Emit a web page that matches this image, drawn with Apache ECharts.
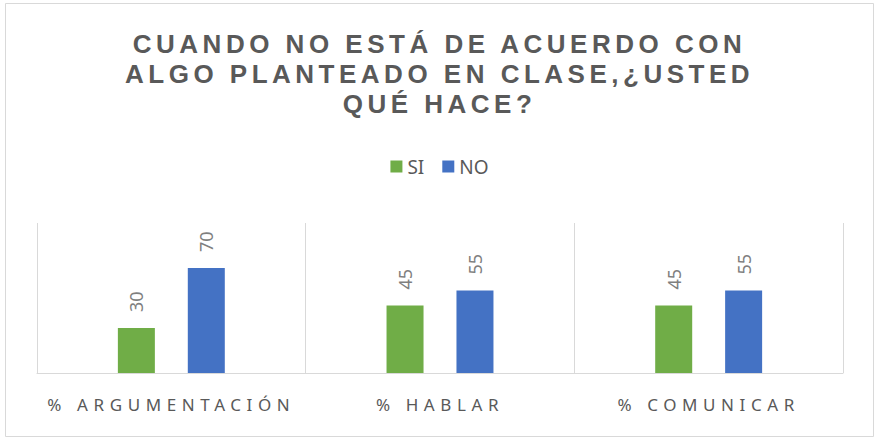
<!DOCTYPE html>
<html>
<head>
<meta charset="utf-8">
<script src="https://cdn.jsdelivr.net/npm/echarts@6/dist/echarts.min.js"></script>
<style>
  html, body { margin: 0; padding: 0; background: #fff; }
  #chart { width: 879px; height: 443px; }
  /* espaciado de letras: título y etiquetas del eje */
  #chart text[style*="26px"] { letter-spacing: 4.5px; }
  #chart text[style*="17px"] { letter-spacing: 5.6px; }
</style>
</head>
<body>
<div id="chart"></div>
<script>
// datos
const titleText = 'CUANDO NO ESTÁ DE ACUERDO CON\nALGO PLANTEADO EN CLASE,¿USTED\nQUÉ HACE?'
const categories = ['% ARGUMENTACIÓN', '% HABLAR', '% COMUNICAR']
const seriesNames = ['SI', 'NO']
const siValues = [30, 45, 45]
const noValues = [70, 55, 55]

const chart = echarts.init(document.getElementById('chart'), null, { renderer: 'svg' })

const valueLabel = {
  show: true,
  position: 'top',
  rotate: 90,
  align: 'left',
  verticalAlign: 'middle',
  distance: 16,
  color: '#7f7f7f',
  fontFamily: 'Noto Sans',
  fontSize: 18
}

const option = {
  animation: false,
  backgroundColor: '#ffffff',
  title: {
    text: titleText,
    left: 'center',
    top: 24,
    textStyle: {
      color: '#595959',
      fontFamily: 'Liberation Sans',
      fontWeight: 'bold',
      fontSize: 26,
      lineHeight: 30
    }
  },
  legend: {
    data: seriesNames,
    left: 'center',
    top: 152,
    itemWidth: 12,
    itemHeight: 12,
    itemGap: 18,
    icon: 'rect',
    textStyle: {
      color: '#595959',
      fontFamily: 'Noto Sans',
      fontSize: 19
    }
  },
  grid: {
    left: 37,
    right: 36,
    top: 223,
    bottom: 70
  },
  xAxis: {
    type: 'category',
    data: categories,
    axisLine: { lineStyle: { color: '#d9d9d9', width: 1 } },
    axisTick: { show: false },
    splitLine: { show: true, lineStyle: { color: '#d9d9d9', width: 1 } },
    axisLabel: {
      margin: 23,
      color: '#595959',
      fontFamily: 'Noto Sans',
      fontSize: 17
    }
  },
  yAxis: {
    type: 'value',
    min: 0,
    max: 100,
    show: false
  },
  series: [
    {
      name: seriesNames[0],
      type: 'bar',
      data: siValues,
      barWidth: 37,
      barGap: '89%',
      itemStyle: { color: '#70ad47' },
      label: valueLabel
    },
    {
      name: seriesNames[1],
      type: 'bar',
      data: noValues,
      barWidth: 37,
      itemStyle: { color: '#4472c4' },
      label: valueLabel
    }
  ],
  graphic: [
    {
      type: 'rect',
      z: -1,
      shape: { x: 5.5, y: 3.5, width: 868, height: 433 },
      style: { fill: 'none', stroke: '#d9d9d9', lineWidth: 1 }
    }
  ]
}

chart.setOption(option)
</script>
</body>
</html>
